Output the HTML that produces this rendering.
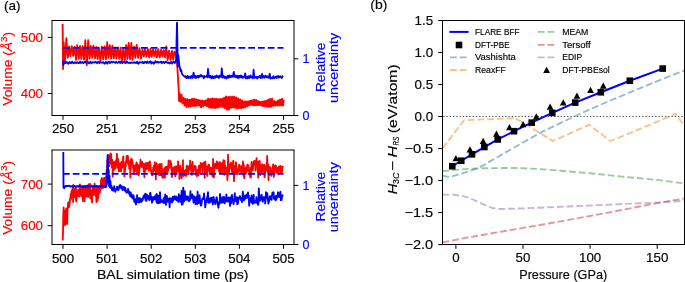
<!DOCTYPE html>
<html><head><meta charset="utf-8"><title>Figure</title>
<style>
html,body{margin:0;padding:0;background:#fff;}
svg{display:block;font-family:"Liberation Sans", sans-serif;}
svg{will-change:transform;}
</style></head>
<body>
<svg width="685" height="282" viewBox="0 0 685 282">
<defs>
<clipPath id="cTop"><rect x="52.0" y="20.5" width="242.0" height="95.0"/></clipPath>
<clipPath id="cBot"><rect x="52.0" y="150.0" width="242.0" height="94.5"/></clipPath>
<clipPath id="cB"><rect x="442.5" y="20.5" width="242.0" height="224.0"/></clipPath>
</defs>
<rect width="685" height="282" fill="#fff"/>
<g clip-path="url(#cTop)">
<polyline points="62.6,24 63.1,69 63.6,42.13 65.03,61.87 66.32,38.2 67.77,57.64 69.11,46.32 70.39,56.19 71.74,46.1 73.18,55.9 74.67,46.58 76.06,59.83 77.27,45.07 78.74,58.89 80.1,45.97 81.35,58.79 82.61,46.16 84.06,59.65 85.34,40.2 86.8,65.1 88.22,40.2 89.57,58.51 90.88,45.84 92.2,57.78 93.44,45.66 94.94,58.4 96.32,47 97.56,59.2 98.83,47.72 100.32,61.1 101.73,46.66 103.12,59.41 104.58,46.54 105.95,59.31 107.21,42.2 108.46,57.86 109.85,45.09 111.18,58.56 112.39,45.75 113.75,58.28 115.18,47.44 116.39,58.6 117.88,47.5 119.23,58.83 120.54,47.74 121.84,61.6 123.27,48.47 124.75,60.29 126.18,45.15 127.51,59 128.71,42.9 130.06,59.14 131.33,42.9 132.58,59.75 134.07,46.77 135.35,57.78 136.68,44.98 138.04,57.87 139.46,48.11 140.93,58.64 142.4,49.51 143.76,56.66 145.03,49.02 146.45,56.69 147.94,49.19 149.2,57.62 150.47,48.9 151.7,56.73 153.04,49.4 154.34,56.16 155.68,49.61 156.93,57.6 158.25,49.19 159.67,57.52 161.15,49.73 162.5,56.23 163.72,50.14 164.99,57.3 166.25,46.5 167.63,60.08 169.03,50.72 170.51,59.73 171.96,50.79 173.21,59.91 174.42,51.56 176.2,56 176.8,61 177.4,68 178,78 178.6,88 179.1,101 179.6,93 180.1,101.5 180.6,101.74 181.1,97.04 181.6,94.63 182.1,99.97 182.6,103.51 183.1,99.31 183.6,97.99 184.1,100.46 184.6,105.57 185.1,103.97 185.6,98.86 186.1,101.15 186.6,107.17 187.1,106.05 187.6,99.09 188.1,100.43 188.6,106.77 189.1,106.28 189.6,99.57 190.1,100.27 190.6,106.43 191.1,105.98 191.6,99.51 192.1,98.81 192.6,105.53 193.1,106.04 193.6,99.2 194.1,98.82 194.6,105.73 195.1,105.77 195.6,99.37 196.1,99.45 196.6,105.51 197.1,105.58 197.6,100 198.1,99.77 198.6,105.06 199.1,105.34 199.6,100.37 200.1,100.42 200.6,106.59 201.1,107.34 201.6,101.35 202.1,100.54 202.6,104.13 203.1,106.3 203.6,102.53 204.1,100.82 204.6,103.28 205.1,105.29 205.6,102.76 206.1,100.23 206.6,103.56 207.1,106.4 207.6,102.08 208.1,98.56 208.6,104.66 209.1,107.53 209.6,101.92 210.1,98.82 210.6,104.54 211.1,107.92 211.6,102.29 212.1,98.4 212.6,104.25 213.1,108.02 213.6,102.09 214.1,98.66 214.6,105.34 215.1,108.18 215.6,100.96 216.1,98.76 216.6,104.4 217.1,107.78 217.6,102.06 218.1,98.84 218.6,101.87 219.1,107.21 219.6,102.23 220.1,98.81 220.6,103.77 221.1,106.91 221.6,101.13 222.1,98.67 222.6,101.63 223.1,107.26 223.6,100.7 224.1,97.57 224.6,105.71 225.1,108.3 225.6,99.14 226.1,96.43 226.6,106.39 227.1,109.85 227.6,98.67 228.1,96.93 228.6,107.65 229.1,109.43 229.6,99.05 230.1,96.77 230.6,106.87 231.1,107.75 231.6,98.1 232.1,96.7 232.6,105.72 233.1,107.47 233.6,98.52 234.1,96.71 234.6,106.09 235.1,107.87 235.6,99.53 236.1,97.34 236.6,105.43 237.1,108.55 237.6,100.63 238.1,98.39 238.6,106.55 239.1,108.27 239.6,101 240.1,99.44 240.6,106.7 241.1,108.35 241.6,101.88 242.1,100.38 242.6,106.87 243.1,107.76 243.6,102.49 244.1,101.36 244.6,106.17 245.1,107.46 245.6,102.94 246.1,101.41 246.6,105.51 247.1,106.39 247.6,102.07 248.1,101.23 248.6,105.45 249.1,105.25 249.6,101.34 250.1,100.8 250.6,104.47 251.1,104.92 251.6,100.67 252.1,100.36 252.6,104.59 253.1,105.36 253.6,100.51 254.1,99.6 254.6,104.65 255.1,105.35 255.6,100.28 256.1,100 256.6,104.8 257.1,105.36 257.6,101.05 258.1,101.11 258.6,105.02 259.1,104.95 259.6,101.78 260.1,101.86 260.6,104.87 261.1,105.53 261.6,102.21 262.1,101.6 262.6,105.19 263.1,106.11 263.6,102.29 264.1,101.14 264.6,105.39 265.1,106.51 265.6,101.63 266.1,100.77 266.6,105.6 267.1,106.76 267.6,101.37 268.1,99.69 268.6,104.99 269.1,107.07 269.6,100.91 270.1,98.86 270.6,105.57 271.1,106.69 271.6,99.78 272.1,98.71 272.6,104.87 273.1,105.98 273.6,101.75 274.1,100.96 274.6,104.67 275.1,105.65 275.6,102.85 276.1,101.56 276.6,104.33 277.1,105.65 277.6,102.61 278.1,100.52 278.6,103.73 279.1,105.53 279.6,101.45 280.1,99.55 280.6,102.37 281.1,105.54 281.6,101.02 282.1,98.64 282.6,102.88 283.1,105.44 283.6,99.75" fill="none" stroke="#ff0000" stroke-width="1.85" stroke-linejoin="round" stroke-linecap="butt" />
<polyline points="62.8,60.5 63.3,64.8 63.9,63.5 64.5,62.3 65,61.48 65.8,63.01 66.6,62.21 67.4,62.39 68.2,63.69 69,62.69 69.8,62.02 70.6,63.09 71.4,62.88 72.2,61.62 73,62.74 73.8,63.2 74.6,62.53 75.4,62.39 76.2,63.04 77,62.09 77.8,62.62 78.6,63.08 79.4,62.81 80.2,61.58 81,62.92 81.8,62.54 82.6,62.08 83.4,63.12 84.2,62.35 85,61.52 85.8,62.57 86.6,62.83 87.4,61.49 88.2,62.51 89,63.27 89.8,62.47 90.6,61.75 91.4,63.35 92.2,62.52 93,62.19 93.8,62.43 94.6,62.58 95.4,61.91 96.2,62.2 97,63.29 97.8,62.11 98.6,61.82 99.4,63.12 100.2,62.17 101,62.24 101.8,62.76 102.6,62.45 103.4,62.23 104.2,63.54 105,63.58 105.8,61.86 106.6,62.53 107.4,63.59 108.2,61.98 109,61.81 109.8,63.14 110.6,62.45 111.4,61.62 112.2,62.41 113,62.1 113.8,62.04 114.6,62.49 115.4,62.83 116.2,61.92 117,62.67 117.8,62.94 118.6,62.19 119.4,61.84 120.2,62.97 121,61.94 121.8,62.31 122.6,62.98 123.4,62.35 124.2,61.68 125,62.67 125.8,63.13 126.6,61.28 127.4,62.09 128.2,62.93 129,62.91 129.8,62.48 130.6,63.06 131.4,62.54 132.2,62.64 133,62.9 133.8,62.48 134.6,62.23 135.4,62.93 136.2,63.12 137,61.66 137.8,63.12 138.6,63.66 139.4,62.22 140.2,62.39 141,62.39 141.8,62.52 142.6,61.85 143.4,63.14 144.2,62.84 145,61.69 145.8,62.16 146.6,63.01 147.4,61.58 148.2,62.33 149,62.85 149.8,61.9 150.6,61.34 151.4,63.52 152.2,62.38 153,62.3 153.8,63.68 154.6,62.61 155.4,61.17 156.2,62.44 157,62.46 157.8,61.67 158.6,62.48 159.4,62.36 160.2,62.14 161,61.62 161.8,63.2 162.6,62.26 163.4,61.81 164.2,62.96 165,62.42 165.8,61.59 166.6,62.16 167.4,62.87 168.2,62.49 169,63.14 169.8,63.52 170.6,62.27 171.4,61.91 172.2,63.6 173,62.27 173.8,61.89 174.6,62.88 175.4,62.64 176.2,59.5 176.6,40 177,22.6 177.4,45 177.8,66.5 178.2,55 178.8,60 179.4,66 180,68 180.6,71 181.2,70 181.8,73.5 182.5,74.5 183.2,75.5 184,76 185,76.8 185.8,76.21 186.4,78.14 187,77.77 187.6,75.99 188.2,77.84 188.8,77.97 189.4,76.75 190,77.14 190.6,77.96 191.2,75.99 191.8,76.36 192.4,77.89 193,75.85 193.6,72.7 194.2,77.54 194.8,76.53 195.4,76.01 196,78 196.6,77.32 197.2,75.91 197.8,77.22 198.4,77.45 199,75.65 199.6,76.9 200.2,76.56 200.8,74.84 201.4,76.21 202,76.11 202.6,76.01 203.2,76.97 203.8,78.28 204.4,76.06 205,76.98 205.6,76.7 206.2,76.43 206.8,75.4 207.4,77.28 208,69 208.6,75.22 209.2,77.23 209.8,76.81 210.4,75.8 211,77.9 211.6,78.21 212.2,76.2 212.8,76.85 213.4,78.14 214,76.66 214.6,76.39 215.2,77.91 215.8,76.56 216.4,75.55 217,77.17 217.6,76.55 218.2,76.1 218.8,77.98 219.4,76.93 220,75.54 220.6,76.83 221.2,76.81 221.8,68.4 222.4,77.38 223,77.56 223.6,75.76 224.2,76.7 224.8,77.92 225.4,76.82 226,77.71 226.6,78.57 227.2,76.38 227.8,75.77 228.4,77.69 229,76.17 229.6,75.47 230.2,77.42 230.8,76.31 231.4,75.73 232,77.02 232.6,76.64 233.2,74.68 233.8,72 234.4,76.95 235,75.35 235.6,76.21 236.2,77.35 236.8,75.88 237.4,75.8 238,78.07 238.6,76.76 239.2,75.82 239.8,77.66 240.4,76.17 241,75.41 241.6,76.89 242.2,77.84 242.8,76.57 243.4,77.55 244,76.91 244.6,76.24 245.2,73.5 245.8,78.52 246.4,76.54 247,77.33 247.6,78.27 248.2,76.13 248.8,77.67 249.4,78.05 250,76.07 250.6,75.43 251.2,77.61 251.8,76.78 252.4,76.58 253,78.29 253.6,69.8 254.2,76.47 254.8,77.85 255.4,77.61 256,76.71 256.6,77.67 257.2,78.48 257.8,76.95 258.4,77.36 259,77.05 259.6,75.96 260.2,76.23 260.8,78.13 261.4,76.7 262,74 262.6,77.71 263.2,76.94 263.8,76.07 264.4,77.72 265,77.09 265.6,75.74 266.2,76.64 266.8,77.56 267.4,76.31 268,77.4 268.6,77.77 269.2,76.05 269.8,73.8 270.4,78.68 271,77.79 271.6,77.86 272.2,78.32 272.8,77.18 273.4,76.27 274,78.27 274.6,77.82 275.2,76.94 275.8,77.1 276.4,78.05 277,76.1 277.6,77.64 278.2,77.52 278.8,76.03 279.4,77.3 280,77.1 280.6,76.47 281.2,76.55 281.8,77.92 282.4,76.25 283,77" fill="none" stroke="#0000ff" stroke-width="1.85" stroke-linejoin="round" stroke-linecap="butt" />
<line x1="63" y1="47.8" x2="283.5" y2="47.8" stroke="#0000ff" stroke-width="1.85" stroke-dasharray="6.8 2.95"/>
</g>
<g clip-path="url(#cBot)">
<polyline points="62.7,240.5 63,232 63.3,215 63.6,207.5 63.9,213.39 64.12,225.07 64.34,215.25 64.56,215.19 64.78,210.82 65,220.18 65.22,224.93 65.44,211.16 65.66,212.82 65.88,222.48 66.1,208.43 66.32,215.35 66.54,211.98 66.76,209.16 66.98,209.31 67.2,224.07 67.42,212.6 67.64,209.19 67.86,207.03 68.08,202.68 68.3,204.94 68.52,202.12 68.74,203.16 68.96,207.44 69.18,206.01 69.4,205.28 69.62,203.86 69.84,201.73 70.06,199.72 70.28,197.8 70.5,199.92 70.72,194.27 70.94,199.24 71.16,196.5 71.38,192.36 71.6,191.31 71.82,190.29 72,191.4 72.22,197.03 72.44,193.86 72.66,187.77 72.88,187.14 73.1,202.07 73.32,185.03 73.54,193.2 73.76,193.55 73.98,188.23 74.2,192.97 74.42,197.19 74.64,194 74.86,191.66 75.08,191.78 75.3,193.91 75.52,196.07 75.74,198.83 75.96,186.93 76.18,200.77 76.4,201.59 76.62,199.7 76.84,191.76 77.06,192.61 77.28,194.31 77.5,192.69 77.72,195.94 77.94,193.11 78.16,189.8 78.38,195.73 78.6,195.7 78.82,194.1 79.04,195.54 79.26,196.56 79.48,194.67 79.7,184.83 79.92,184.43 80.14,187.53 80.36,186.51 80.58,189.9 80.8,194.63 81.02,191.37 81.24,187.78 81.46,196.3 81.68,192.11 81.9,187.67 82.12,190.37 82.34,192.18 82.56,189.37 82.78,192.96 83,201.07 83.22,188.11 83.44,190.66 83.66,193.81 83.88,190.79 84.1,192.6 84.32,192.08 84.54,201.22 84.76,193.93 84.98,185.93 85.2,194.04 85.42,192.18 85.64,193.87 85.86,194.98 86.08,196.47 86.3,193.93 86.52,189.64 86.74,187.79 86.96,190.25 87.18,191.57 87.4,194.82 87.62,193.22 87.84,194.69 88.06,196.99 88.28,193.85 88.5,187.33 88.72,185.57 88.94,184.12 89.16,193.35 89.38,189.79 89.6,194.96 89.82,195.26 90.04,183.93 90.26,198.52 90.48,194.73 90.7,192.69 90.92,192.68 91.14,192.95 91.36,190.8 91.58,191.43 91.8,196.99 92.02,202.57 92.24,191.52 92.46,188.98 92.68,191.35 92.9,194.51 93.12,193.02 93.34,194.98 93.56,188.21 93.78,193.77 94,190.7 94.22,193.19 94.44,192.84 94.66,183.75 94.88,185.52 95.1,185.93 95.32,195.59 95.54,194.35 95.76,193.8 95.98,188.31 96.2,194.91 96.42,202.07 96.64,195.3 96.86,192.79 97.08,187.15 97.3,192.6 97.52,200.82 97.74,198.03 97.96,198.38 98.18,196.06 98.4,189.93 98.62,194.47 98.84,188.1 99.06,188.42 99.28,190.07 99.5,192.75 99.72,192.49 99.94,192.37 100.16,188.89 100.38,185.92 100.6,189.2 100.82,188.46 101,180 101.4,188 101.8,178 102.2,186 102.6,179 103,188 103.4,180 103.8,187 104.2,178 104.6,186 105,179 105.4,187 105.8,177 106.2,184 106.6,170 107,175 107.3,160 107.7,168 108.1,155 108.5,165 108.9,157 109.3,166 109.7,155 110.1,163 110.6,153.5 111.2,154.53 111.42,163.57 111.64,164.12 111.86,166.87 112.08,167.62 112.3,159.96 112.52,165.77 112.74,176.66 112.96,163.25 113.18,167.99 113.4,167.59 113.62,165.43 113.84,169.97 114.06,162.1 114.28,163.56 114.5,169.07 114.72,165.12 114.94,162.45 115.16,163.25 115.38,161.48 115.6,168.3 115.82,162.06 116.04,166.08 116.26,159.86 116.48,164.42 116.7,163.58 116.92,153.84 117.14,159.29 117.36,157.78 117.58,159.51 117.8,167.88 118.02,161.65 118.24,159.14 118.46,167.56 118.68,166.41 118.9,171.35 119.12,169.03 119.34,163.48 119.56,164.09 119.78,169.28 120,170.53 120.22,167.55 120.44,166.38 120.66,165.23 120.88,162.94 121.1,171.33 121.32,167.84 121.54,161.98 121.76,161.77 121.98,166.15 122.2,167.78 122.42,165.55 122.64,162.52 122.86,163.69 123.08,157.81 123.3,156.49 123.52,163.67 123.74,162.04 123.96,164.42 124.18,168.55 124.4,176.38 124.62,165.64 124.84,172.28 125.06,169.78 125.28,164.83 125.5,166.65 125.72,166.27 125.94,161.45 126.16,162.79 126.38,162.57 126.6,155.89 126.82,159.61 127.04,160.97 127.26,161.1 127.48,156.79 127.7,159.71 127.92,155.93 128.14,164.02 128.36,160.32 128.58,165.25 128.8,160.72 129.02,162.39 129.24,168.82 129.46,164.39 129.68,163.1 129.9,168.34 130.12,165.35 130.34,177.57 130.56,165.77 130.78,169.42 131,159.2 131.22,159.63 131.44,159.21 131.66,158.79 131.88,159.52 132.1,160.02 132.32,164.49 132.54,162.39 132.76,165.27 132.98,167.76 133.2,165.05 133.42,167.11 133.64,173.56 133.86,171.95 134.08,167.94 134.3,168.22 134.52,165.36 134.74,168.19 134.96,171.43 135.18,166.85 135.4,166.74 135.62,171.1 135.84,167.25 136.06,167.72 136.28,163.59 136.5,162.35 136.72,162.81 136.94,172.12 137.16,167.67 137.38,165.38 137.6,164.4 137.82,165.46 138.04,168.85 138.26,168.98 138.48,175.37 138.7,172.21 138.92,174.92 139.14,172.26 139.36,172.09 139.58,165.19 139.8,166.3 140.02,166.84 140.24,166.34 140.46,159.72 140.68,166.49 140.9,165.28 141.12,164.49 141.34,164.67 141.56,164.82 141.78,166.95 142,162.56 142.22,161.78 142.44,165.46 142.66,166.79 142.88,165.88 143.1,165.02 143.32,164 143.54,166.2 143.76,171.3 143.98,166.71 144.2,172.96 144.42,176.97 144.64,170.23 144.86,172.63 145.08,166.77 145.3,163.39 145.52,163.29 145.74,166.01 145.96,167.48 146.18,167.52 146.4,169.39 146.62,163.16 146.84,168.48 147.06,164.79 147.28,165.39 147.5,166.32 147.72,164.32 147.94,162.65 148.16,162.95 148.38,166.11 148.6,169.33 148.82,170.62 149.04,166.27 149.26,164.89 149.48,163.8 149.7,167.55 149.92,161.45 150.14,168.9 150.36,166.88 150.58,165.08 150.8,167.84 151.02,171.34 151.24,170.87 151.46,173.01 151.68,171.24 151.9,173.98 152.12,175.37 152.34,171.89 152.56,175.17 152.78,172.69 153,171.31 153.22,167.49 153.44,167.66 153.66,170.94 153.88,165.79 154.1,169.45 154.32,170.03 154.54,169.96 154.76,162.09 154.98,165.03 155.2,168.64 155.42,165.86 155.64,167.26 155.86,179.38 156.08,166.61 156.3,165.38 156.52,169.66 156.74,163.2 156.96,168.23 157.18,167.65 157.4,170.67 157.62,166.67 157.84,165.85 158.06,174.39 158.28,168.7 158.5,166.55 158.72,166.94 158.94,164.83 159.16,170.79 159.38,175.17 159.6,169.65 159.82,164.04 160.04,170.57 160.26,173.38 160.48,173.83 160.7,175.15 160.92,169.55 161.14,169.3 161.36,165.52 161.58,163.83 161.8,170.62 162.02,168.66 162.24,177.03 162.46,174.04 162.68,170.53 162.9,173.45 163.12,177.88 163.34,175.77 163.56,169.49 163.78,171.52 164,175.48 164.22,171.38 164.44,168.6 164.66,172.83 164.88,177.67 165.1,167.7 165.32,168 165.54,166.95 165.76,169.73 165.98,170.38 166.2,173.87 166.42,174.02 166.64,166.97 166.86,169.81 167.08,172.49 167.3,172.21 167.52,173.72 167.74,169.38 167.96,166.05 168.18,170.26 168.4,165.88 168.62,160.45 168.84,167.81 169.06,165.68 169.28,166.01 169.5,162.8 169.72,161.62 169.94,161.66 170.16,164.2 170.38,167.67 170.6,161.05 170.82,167.57 171.04,164.59 171.26,163.66 171.48,168.69 171.7,168.66 171.92,177.07 172.14,172.58 172.36,168.01 172.58,169.35 172.8,169.77 173.02,173.65 173.24,169.58 173.46,172.2 173.68,167.92 173.9,171.7 174.12,167.54 174.34,166.87 174.56,173.53 174.78,171.66 175,170.2 175.22,176.16 175.44,173.09 175.66,168.15 175.88,170.79 176.1,166.15 176.32,171.29 176.54,173.95 176.76,169.77 176.98,167.83 177.2,169.55 177.42,169.94 177.64,167.17 177.86,170.79 178.08,161.43 178.3,166.7 178.52,167.87 178.74,168.87 178.96,171.17 179.18,167.52 179.4,178.88 179.62,170.96 179.84,169.27 180.06,166.31 180.28,165.54 180.5,169.95 180.72,167.85 180.94,170.08 181.16,174.15 181.38,175.9 181.6,178.31 181.82,173.69 182.04,169.18 182.26,173.62 182.48,173.42 182.7,175.81 182.92,160.23 183.14,175.94 183.36,175.94 183.58,175.46 183.8,174.52 184.02,173.68 184.24,172.72 184.46,172.17 184.68,174.2 184.9,170.43 185.12,175.58 185.34,172.18 185.56,173.97 185.78,171.42 186,169.74 186.22,175.93 186.44,171.44 186.66,166.35 186.88,165.67 187.1,166.43 187.32,174.21 187.54,171.57 187.76,172.46 187.98,166.77 188.2,168.27 188.42,169.85 188.64,174.01 188.86,168.25 189.08,169.71 189.3,169.54 189.52,165.53 189.74,166.94 189.96,166.97 190.18,160.78 190.4,167.07 190.62,169.79 190.84,168.06 191.06,164.53 191.28,171.56 191.5,170.96 191.72,172.93 191.94,174.96 192.16,169.89 192.38,171.63 192.6,161.93 192.82,168.55 193.04,168.2 193.26,168.3 193.48,171.78 193.7,170.34 193.92,168.88 194.14,167.87 194.36,169.34 194.58,166.24 194.8,166.06 195.02,167.36 195.24,166.37 195.46,167.28 195.68,166.17 195.9,173.65 196.12,174.93 196.34,172.79 196.56,170.27 196.78,175.97 197,172.81 197.22,170.1 197.44,170.04 197.66,169.99 197.88,173.28 198.1,170.34 198.32,175.43 198.54,168.55 198.76,170.21 198.98,165.73 199.2,172.29 199.42,168.67 199.64,167.87 199.86,170.54 200.08,172.77 200.3,166.59 200.52,166.17 200.74,162.82 200.96,166 201.18,166.7 201.4,166.25 201.62,164.99 201.84,165.28 202.06,164.25 202.28,167.61 202.5,172.05 202.72,163.45 202.94,165.03 203.16,164.73 203.38,167.28 203.6,163.95 203.82,164.83 204.04,162.45 204.26,166.64 204.48,166.71 204.7,177.67 204.92,167.32 205.14,166.15 205.36,161.78 205.58,166.53 205.8,167.94 206.02,167.44 206.24,170.93 206.46,173.45 206.68,167.79 206.9,166.42 207.12,173.1 207.34,175.9 207.56,170.73 207.78,167.17 208,167.29 208.22,167.81 208.44,164.74 208.66,168.25 208.88,165.79 209.1,164.84 209.32,170.82 209.54,168.58 209.76,169.37 209.98,171.81 210.2,173.42 210.42,170.6 210.64,170.46 210.86,167.71 211.08,174.25 211.3,173.81 211.52,168.23 211.74,169.02 211.96,171.47 212.18,171.8 212.4,175.99 212.62,176.43 212.84,170.79 213.06,158.93 213.28,165.41 213.5,168.17 213.72,169.1 213.94,177.27 214.16,173.01 214.38,164.4 214.6,164.79 214.82,167.27 215.04,164.13 215.26,163.79 215.48,165.03 215.7,167.61 215.92,167.11 216.14,164.58 216.36,168.44 216.58,166.1 216.8,161.43 217.02,162.03 217.24,162.46 217.46,167.05 217.68,162.29 217.9,164.89 218.12,168.49 218.34,166.82 218.56,167.95 218.78,164.33 219,170.02 219.22,171.9 219.44,170.05 219.66,163.12 219.88,162.08 220.1,167.69 220.32,172.4 220.54,170.21 220.76,172.11 220.98,167.39 221.2,166.58 221.42,166.87 221.64,168.36 221.86,163.23 222.08,168.49 222.3,172.12 222.52,166.38 222.74,163.27 222.96,167.12 223.18,165.9 223.4,160.24 223.62,167.38 223.84,168.69 224.06,167.43 224.28,174.76 224.5,160.73 224.72,168.33 224.94,169.26 225.16,166.28 225.38,165.84 225.6,169.16 225.82,167.86 226.04,167.62 226.26,173.94 226.48,174.34 226.7,174.32 226.92,173.44 227.14,172.84 227.36,179.97 227.58,171.98 227.8,175.97 228.02,154.73 228.24,168.07 228.46,164.07 228.68,165.32 228.9,168.43 229.12,172.64 229.34,168.18 229.56,168.25 229.78,167.27 230,165.8 230.22,163.88 230.44,166.9 230.66,162.94 230.88,166.78 231.1,168.27 231.32,166.9 231.54,165.19 231.76,163.24 231.98,172.08 232.2,166.28 232.42,172.28 232.64,171.98 232.86,168.83 233.08,164.91 233.3,160.73 233.52,173.84 233.74,167.64 233.96,181.17 234.18,170.44 234.4,169.99 234.62,174.86 234.84,169.41 235.06,170.4 235.28,165.56 235.5,173.54 235.72,168.7 235.94,162.14 236.16,165.48 236.38,166.94 236.6,173.76 236.82,169.99 237.04,169.22 237.26,170.61 237.48,174.13 237.7,170.67 237.92,172.35 238.14,171.46 238.36,168.55 238.58,168.32 238.8,168.04 239.02,165.06 239.24,170.13 239.46,164.63 239.68,169.88 239.9,171.66 240.12,169.4 240.34,166.46 240.56,166.86 240.78,169.26 241,171.29 241.22,170.97 241.44,173.08 241.66,169.52 241.88,170.43 242.1,165.56 242.32,170.49 242.54,170.97 242.76,169.57 242.98,161.33 243.2,174.22 243.42,163.93 243.64,176.38 243.86,165.06 244.08,171.29 244.3,178.25 244.52,172.25 244.74,171.18 244.96,169.57 245.18,170.48 245.4,171.6 245.62,173.86 245.84,167.89 246.06,172.71 246.28,167.24 246.5,168.27 246.72,171.28 246.94,171.23 247.16,166.23 247.38,164.69 247.6,164.75 247.82,166.07 248.04,170.35 248.26,165.1 248.48,168.15 248.7,170.11 248.92,171.02 249.14,171.32 249.36,174.77 249.58,173.4 249.8,174.01 250.02,173.51 250.24,177.03 250.46,167.61 250.68,172.87 250.9,177.57 251.12,169.43 251.34,166.74 251.56,161.93 251.78,165.16 252,165.17 252.22,168.5 252.44,163.91 252.66,170.3 252.88,169.5 253.1,167.38 253.32,164.86 253.54,163.33 253.76,161.48 253.98,162.28 254.2,164.21 254.42,164.47 254.64,160.87 254.86,162.66 255.08,161.61 255.3,164.29 255.52,170.61 255.74,169.79 255.96,166.67 256.18,161.41 256.4,159.73 256.62,158.24 256.84,164.83 257.06,163.44 257.28,165.37 257.5,164.29 257.72,166.02 257.94,170.8 258.16,177.57 258.38,166.12 258.6,161.33 258.82,168.85 259.04,165.21 259.26,163.31 259.48,161.75 259.7,161.02 259.92,166.33 260.14,174.98 260.36,168.26 260.58,171.03 260.8,170.16 261.02,165.72 261.24,166.13 261.46,166.42 261.68,165.16 261.9,172.38 262.12,164.23 262.34,167.4 262.56,168.75 262.78,166.73 263,168.1 263.22,171 263.44,170.27 263.66,170.85 263.88,172.04 264.1,164.57 264.32,171.69 264.54,177.31 264.76,175.98 264.98,175.46 265.2,167.98 265.42,168.37 265.64,166.4 265.86,166.08 266.08,170.46 266.3,167.07 266.52,167.46 266.74,162.29 266.96,165.09 267.18,155.93 267.4,165.56 267.62,164.83 267.84,172.25 268.06,166.42 268.28,164.3 268.5,179.97 268.72,169.99 268.94,175.35 269.16,172.55 269.38,168.21 269.6,167.15 269.82,171.13 270.04,167.11 270.26,172.36 270.48,174.68 270.7,171.82 270.92,172.34 271.14,172.98 271.36,175.78 271.58,169.44 271.8,173.32 272.02,170.56 272.24,168.25 272.46,169.86 272.68,169.68 272.9,167.31 273.12,164.42 273.34,165 273.56,172.26 273.78,176.95 274,175.07 274.22,175.71 274.44,170.87 274.66,169.93 274.88,170.53 275.1,166.76 275.32,165.36 275.54,168 275.76,168.03 275.98,165.93 276.2,169.36 276.42,169.06 276.64,172.77 276.86,171.43 277.08,169.95 277.3,170.5 277.52,169.8 277.74,167.92 277.96,167.76 278.18,170.97 278.4,172.01 278.62,174.26 278.84,166.39 279.06,166.61 279.28,166.6 279.5,168.3 279.72,167.22 279.94,166.56 280.16,170.12 280.38,169.98 280.6,165.99 280.82,171.63 281.04,173.21 281.26,169.33 281.48,171.75 281.7,168.24 281.92,172.14 282.14,169.91 282.36,167.16 282.58,167.15 282.8,165.95" fill="none" stroke="#ff0000" stroke-width="1.85" stroke-linejoin="round" stroke-linecap="butt" />
<polyline points="63.3,151.9 63.4,170 63.5,187.5 64.2,188.2 64.9,186.5 65.6,186 66.3,186.45 67.1,185.69 67.9,186.14 68.7,185.93 69.5,185.76 70.3,186.66 71.1,186.35 71.9,186.05 72.7,186.79 73.5,186.61 74.3,185.72 75.1,186.24 75.9,186.78 76.7,186.07 77.5,186.22 78.3,186.81 79.1,185.7 79.9,185.58 80.7,186.34 81.5,186.17 82.3,186.12 83.1,187.26 83.9,186.04 84.7,186.16 85.5,187.14 86.3,186.49 87.1,185.56 87.9,186.56 88.7,186.31 89.5,185.38 90.3,186.71 91.1,186.74 91.9,185.53 92.7,187.13 93.5,186.39 94.3,185.64 95.1,186.24 95.9,186.34 96.7,185.89 97.5,186.21 98.3,187.23 99.1,186.03 99.9,186.26 100.7,186.61 101.5,185.41 102.3,185.93 103.1,186.4 103.9,186.35 104.7,185.85 105.5,187.26 106.3,186.39 106.8,184 107.3,170 107.6,155.2 107.9,160 108.3,182 108.7,170 109.1,186 109.5,176 109.9,187.5 110.4,181 110.9,188 111.4,186 111.8,187.95 112.02,190.07 112.24,188.27 112.46,188.78 112.68,189.32 112.9,187.87 113.12,188.41 113.34,190.94 113.56,189.35 113.78,188.38 114,187.43 114.22,186.15 114.44,188.33 114.66,188.22 114.88,188.41 115.1,190.17 115.32,191.77 115.54,188.86 115.76,189.5 115.98,189.33 116.2,188.98 116.42,188.88 116.64,188.26 116.86,189.71 117.08,186.62 117.3,188.85 117.52,189.59 117.74,189.54 117.96,188.67 118.18,188.61 118.4,190.02 118.62,189.31 118.84,188.27 119.06,186.85 119.28,186.7 119.5,185.8 119.72,186.65 119.94,187.24 120.16,184.89 120.38,186.09 120.6,187.44 120.82,187.6 121.04,186.62 121.26,188.46 121.48,187.26 121.7,186.11 121.92,188.67 122.14,186.98 122.36,188.87 122.58,190.15 122.8,189.76 123.02,188 123.24,187.84 123.46,187.55 123.68,188.34 123.9,186.88 124.12,188.46 124.34,189.93 124.56,189.75 124.78,190.43 125,189.11 125.22,187.84 125.44,188.23 125.66,190.67 125.88,191.79 126.1,190.55 126.32,192.06 126.54,190.96 126.76,192.78 126.98,192.47 127.2,191.2 127.42,192.22 127.64,190.79 127.86,189.93 128.08,188.9 128.3,190.67 128.52,191.23 128.74,191.54 128.96,191.32 129.18,193.86 129.4,192.23 129.62,192.03 129.84,194.4 130.06,195.97 130.28,195.41 130.5,192.42 130.72,192.58 130.94,194.44 131.16,194.71 131.38,197.12 131.6,194.41 131.82,196.05 132.04,195.2 132.26,197.68 132.48,197.13 132.7,198.6 132.92,197.14 133.14,195.51 133.36,195.32 133.58,196.16 133.8,196.19 134.02,199.67 134.24,201.74 134.46,201.38 134.68,199.43 134.9,199.96 135.12,199.51 135.34,202.61 135.56,202.57 135.78,202.92 136,204.57 136.22,198.63 136.44,198.82 136.66,198.31 136.88,200.24 137.1,195.12 137.32,199.47 137.54,199.41 137.76,202.35 137.98,199.81 138.2,198.52 138.42,198.89 138.64,198.27 138.86,198.32 139.08,199.82 139.3,202.45 139.52,198.09 139.74,198.69 139.96,199.06 140.18,199.04 140.4,198.86 140.62,198.52 140.84,200.57 141.06,202.07 141.28,199.08 141.5,199.25 141.72,199.53 141.94,199.2 142.16,201.01 142.38,200.21 142.6,200.1 142.82,199.63 143.04,197.74 143.26,197.03 143.48,196.25 143.7,197.93 143.92,197.16 144,195.62 144.4,194.89 144.8,195.34 145.2,193.71 145.6,200.24 146,200.6 146.4,200.88 146.8,194.53 147.2,194.94 147.6,197.72 148,198.47 148.4,196.18 148.8,198.25 149.2,200.14 149.6,199.6 150,193.43 150.4,192.7 150.8,196.76 151.2,198.97 151.6,198.5 152,202.57 152.4,197.22 152.8,200.72 153.2,199.57 153.6,199.71 154,196.83 154.4,196.98 154.8,199.02 155.2,196.43 155.6,195.09 156,197.18 156.4,201.72 156.8,193.93 157.2,203.25 157.6,199.92 158,198.7 158.4,195.66 158.8,203.17 159.2,202.86 159.6,201.5 160,192.23 160.4,202.51 160.8,200.76 161.2,199.87 161.6,200.52 162,202.14 162.4,201.98 162.8,202 163.2,201.06 163.6,198.32 164,203.27 164.4,197.09 164.8,201.59 165.2,194.45 165.6,197.45 166,204.87 166.4,199.49 166.8,195.99 167.2,197.99 167.6,201.91 168,199.13 168.4,200.53 168.8,199.63 169.2,198.29 169.6,207.29 170,201.62 170.4,198.73 170.8,198.24 171.2,200.49 171.6,201.2 172,202.39 172.4,201.09 172.8,196.69 173.2,200.76 173.6,199.61 174,199.41 174.4,196.25 174.8,197.86 175.2,197.87 175.6,199.67 176,196.4 176.4,199.5 176.8,200.45 177.2,197.42 177.6,197.94 178,197.45 178.4,201.93 178.8,194.07 179.2,197.83 179.6,195.33 180,197.93 180.4,201.92 180.8,199.05 181.2,200.33 181.6,190.93 182,204.7 182.4,203.61 182.8,203.81 183.2,187.73 183.6,196.19 184,201.48 184.4,199.34 184.8,191.12 185.2,199.7 185.6,195.71 186,199.89 186.4,198.85 186.8,199.68 187.2,196.78 187.6,199.05 188,196.35 188.4,199.95 188.8,201.25 189.2,200.96 189.6,199.84 190,199.88 190.4,191.18 190.8,198.33 191.2,197.29 191.6,198.1 192,197.43 192.4,194.48 192.8,196.09 193.2,199.73 193.6,202.72 194,198.21 194.4,196.41 194.8,202.16 195.2,197.53 195.6,204.12 196,200.49 196.4,197.16 196.8,201.22 197.2,204.1 197.6,191.73 198,202.64 198.4,199.35 198.8,203.17 199.2,199.28 199.6,195.21 200,199.67 200.4,201.95 200.8,205.65 201.2,205.67 201.6,203.07 202,200.07 202.4,198.68 202.8,199.02 203.2,197.8 203.6,199.04 204,193.5 204.4,199.3 204.8,200.27 205.2,207.33 205.6,204.4 206,200.44 206.4,202.18 206.8,197.93 207.2,198.47 207.6,195.27 208,192.23 208.4,202.78 208.8,198.03 209.2,199.69 209.6,202.67 210,202.13 210.4,201.59 210.8,198.09 211.2,197.66 211.6,199.32 212,201.75 212.4,197.64 212.8,204.47 213.2,201.06 213.6,196.9 214,201.06 214.4,199.92 214.8,201.33 215.2,204.02 215.6,202.05 216,201.93 216.4,197.64 216.8,197.33 217.2,200.94 217.6,204.35 218,205 218.4,207.73 218.8,203.29 219.2,201.99 219.6,203.82 220,193.93 220.4,200.98 220.8,198.19 221.2,202.78 221.6,198.48 222,201.5 222.4,197.15 222.8,202.61 223.2,198.4 223.6,202.24 224,196.86 224.4,198.55 224.8,203.23 225.2,199.25 225.6,200.57 226,199.49 226.4,194.44 226.8,200.01 227.2,201.71 227.6,198.07 228,201.5 228.4,198.73 228.8,197.44 229.2,199.7 229.6,198.42 230,205.85 230.4,197.63 230.8,201.58 231.2,203.25 231.6,195.95 232,194.84 232.4,200.64 232.8,199.45 233.2,201.49 233.6,204.06 234,200.8 234.4,198.22 234.8,193.22 235.2,199.62 235.6,198.2 236,201.01 236.4,201.39 236.8,197.14 237.2,204.06 237.6,203.98 238,203.21 238.4,197.58 238.8,198.09 239.2,197.76 239.6,197.93 240,196.05 240.4,199.59 240.8,199.88 241.2,200.24 241.6,197.98 242,202.03 242.4,200.05 242.8,191.79 243.2,195.07 243.6,197.26 244,200.33 244.4,197.62 244.8,196.92 245.2,195.52 245.6,198.52 246,196.26 246.4,195.23 246.8,194.58 247.2,197.82 247.6,195.82 248,192.41 248.4,197.66 248.8,195.64 249.2,205.67 249.6,198.86 250,201.41 250.4,201.82 250.8,197.88 251.2,198.16 251.6,195.49 252,202.77 252.4,201.54 252.8,203.9 253.2,200.17 253.6,194.87 254,203.03 254.4,201.42 254.8,201.21 255.2,201.03 255.6,202.58 256,202.7 256.4,197.19 256.8,202.79 257.2,199.92 257.6,199.29 258,204.77 258.4,203.9 258.8,188.33 259.2,195.19 259.6,199.03 260,200.79 260.4,199.43 260.8,195.88 261.2,196.04 261.6,194.74 262,198.16 262.4,200.51 262.8,201.59 263.2,197.22 263.6,198.62 264,199.78 264.4,197.25 264.8,197.52 265.2,203.47 265.6,199.87 266,192.23 266.4,197.33 266.8,197.66 267.2,193.08 267.6,196.29 268,200.25 268.4,203.61 268.8,202.11 269.2,200.45 269.6,198.43 270,196.29 270.4,196.96 270.8,199.2 271.2,196.14 271.6,199.87 272,195.77 272.4,192.61 272.8,193.75 273.2,192.21 273.6,192.45 274,198.9 274.4,196.86 274.8,197.27 275.2,199.65 275.6,200.35 276,195.77 276.4,199.3 276.8,197.63 277.2,196.17 277.6,196.93 278,192.24 278.4,192.76 278.8,194.7 279.2,197.09 279.6,195.15 280,195.33 280.4,191.73 280.8,200.15 281.2,198.94 281.6,199.95 282,195.85 282.4,195.11 282.8,196.61" fill="none" stroke="#0000ff" stroke-width="1.85" stroke-linejoin="round" stroke-linecap="butt" />
<line x1="63" y1="173.9" x2="283.5" y2="173.9" stroke="#0000ff" stroke-width="1.85" stroke-dasharray="6.8 2.95"/>
</g>
<line x1="52" y1="20.5" x2="52" y2="115.5" stroke="#000" stroke-width="1.0" />
<line x1="294" y1="20.5" x2="294" y2="115.5" stroke="#000" stroke-width="1.0" />
<line x1="51.5" y1="20.5" x2="294.5" y2="20.5" stroke="#000" stroke-width="1.0" />
<line x1="51.5" y1="115.5" x2="294.5" y2="115.5" stroke="#000" stroke-width="1.0" />
<line x1="63" y1="115.5" x2="63" y2="119.8" stroke="#000" stroke-width="1.0" />
<line x1="107.1" y1="115.5" x2="107.1" y2="119.8" stroke="#000" stroke-width="1.0" />
<line x1="151.2" y1="115.5" x2="151.2" y2="119.8" stroke="#000" stroke-width="1.0" />
<line x1="195.3" y1="115.5" x2="195.3" y2="119.8" stroke="#000" stroke-width="1.0" />
<line x1="239.4" y1="115.5" x2="239.4" y2="119.8" stroke="#000" stroke-width="1.0" />
<line x1="283.5" y1="115.5" x2="283.5" y2="119.8" stroke="#000" stroke-width="1.0" />
<line x1="52" y1="150" x2="52" y2="244.5" stroke="#000" stroke-width="1.0" />
<line x1="294" y1="150" x2="294" y2="244.5" stroke="#000" stroke-width="1.0" />
<line x1="51.5" y1="150" x2="294.5" y2="150" stroke="#000" stroke-width="1.0" />
<line x1="51.5" y1="244.5" x2="294.5" y2="244.5" stroke="#000" stroke-width="1.0" />
<line x1="63" y1="244.5" x2="63" y2="248.8" stroke="#000" stroke-width="1.0" />
<line x1="107.1" y1="244.5" x2="107.1" y2="248.8" stroke="#000" stroke-width="1.0" />
<line x1="151.2" y1="244.5" x2="151.2" y2="248.8" stroke="#000" stroke-width="1.0" />
<line x1="195.3" y1="244.5" x2="195.3" y2="248.8" stroke="#000" stroke-width="1.0" />
<line x1="239.4" y1="244.5" x2="239.4" y2="248.8" stroke="#000" stroke-width="1.0" />
<line x1="283.5" y1="244.5" x2="283.5" y2="248.8" stroke="#000" stroke-width="1.0" />
<line x1="47.7" y1="37.4" x2="52" y2="37.4" stroke="#000" stroke-width="1.0" />
<text x="43" y="41.9" font-size="12.6" fill="#ff0000" stroke="#ff0000" stroke-width="0.15" text-anchor="end" textLength="22.2" lengthAdjust="spacingAndGlyphs" >500</text>
<line x1="47.7" y1="93.5" x2="52" y2="93.5" stroke="#000" stroke-width="1.0" />
<text x="43" y="98" font-size="12.6" fill="#ff0000" stroke="#ff0000" stroke-width="0.15" text-anchor="end" textLength="22.2" lengthAdjust="spacingAndGlyphs" >400</text>
<line x1="294" y1="58.8" x2="298.3" y2="58.8" stroke="#000" stroke-width="1.0" />
<text x="302.6" y="63.3" font-size="12.6" fill="#0000ff" stroke="#0000ff" stroke-width="0.15" text-anchor="start" >1</text>
<line x1="294" y1="115.5" x2="298.3" y2="115.5" stroke="#000" stroke-width="1.0" />
<text x="302.6" y="120" font-size="12.6" fill="#0000ff" stroke="#0000ff" stroke-width="0.15" text-anchor="start" >0</text>
<text x="63" y="133.4" font-size="12.6" fill="#000" stroke="#000" stroke-width="0.15" text-anchor="middle" textLength="22.2" lengthAdjust="spacingAndGlyphs" >250</text>
<text x="107.1" y="133.4" font-size="12.6" fill="#000" stroke="#000" stroke-width="0.15" text-anchor="middle" textLength="22.2" lengthAdjust="spacingAndGlyphs" >251</text>
<text x="151.2" y="133.4" font-size="12.6" fill="#000" stroke="#000" stroke-width="0.15" text-anchor="middle" textLength="22.2" lengthAdjust="spacingAndGlyphs" >252</text>
<text x="195.3" y="133.4" font-size="12.6" fill="#000" stroke="#000" stroke-width="0.15" text-anchor="middle" textLength="22.2" lengthAdjust="spacingAndGlyphs" >253</text>
<text x="239.4" y="133.4" font-size="12.6" fill="#000" stroke="#000" stroke-width="0.15" text-anchor="middle" textLength="22.2" lengthAdjust="spacingAndGlyphs" >254</text>
<text x="283.5" y="133.4" font-size="12.6" fill="#000" stroke="#000" stroke-width="0.15" text-anchor="middle" textLength="22.2" lengthAdjust="spacingAndGlyphs" >255</text>
<line x1="47.7" y1="184.1" x2="52" y2="184.1" stroke="#000" stroke-width="1.0" />
<text x="43" y="188.6" font-size="12.6" fill="#ff0000" stroke="#ff0000" stroke-width="0.15" text-anchor="end" textLength="22.2" lengthAdjust="spacingAndGlyphs" >700</text>
<line x1="47.7" y1="225.7" x2="52" y2="225.7" stroke="#000" stroke-width="1.0" />
<text x="43" y="230.2" font-size="12.6" fill="#ff0000" stroke="#ff0000" stroke-width="0.15" text-anchor="end" textLength="22.2" lengthAdjust="spacingAndGlyphs" >600</text>
<line x1="294" y1="185.4" x2="298.3" y2="185.4" stroke="#000" stroke-width="1.0" />
<text x="302.6" y="189.9" font-size="12.6" fill="#0000ff" stroke="#0000ff" stroke-width="0.15" text-anchor="start" >1</text>
<line x1="294" y1="244.5" x2="298.3" y2="244.5" stroke="#000" stroke-width="1.0" />
<text x="302.6" y="249" font-size="12.6" fill="#0000ff" stroke="#0000ff" stroke-width="0.15" text-anchor="start" >0</text>
<text x="63" y="262.8" font-size="12.6" fill="#000" stroke="#000" stroke-width="0.15" text-anchor="middle" textLength="22.2" lengthAdjust="spacingAndGlyphs" >500</text>
<text x="107.1" y="262.8" font-size="12.6" fill="#000" stroke="#000" stroke-width="0.15" text-anchor="middle" textLength="22.2" lengthAdjust="spacingAndGlyphs" >501</text>
<text x="151.2" y="262.8" font-size="12.6" fill="#000" stroke="#000" stroke-width="0.15" text-anchor="middle" textLength="22.2" lengthAdjust="spacingAndGlyphs" >502</text>
<text x="195.3" y="262.8" font-size="12.6" fill="#000" stroke="#000" stroke-width="0.15" text-anchor="middle" textLength="22.2" lengthAdjust="spacingAndGlyphs" >503</text>
<text x="239.4" y="262.8" font-size="12.6" fill="#000" stroke="#000" stroke-width="0.15" text-anchor="middle" textLength="22.2" lengthAdjust="spacingAndGlyphs" >504</text>
<text x="283.5" y="262.8" font-size="12.6" fill="#000" stroke="#000" stroke-width="0.15" text-anchor="middle" textLength="22.2" lengthAdjust="spacingAndGlyphs" >505</text>
<text x="12" y="68.75" font-size="12.6" fill="#ff0000" stroke="#ff0000" stroke-width="0.15" text-anchor="middle" transform="rotate(-90 12 68.75)" textLength="74" lengthAdjust="spacingAndGlyphs" >Volume (<tspan font-style="italic">Å</tspan><tspan font-size="9" dy="-5">3</tspan><tspan dy="5">)</tspan></text>
<text x="12" y="197.85" font-size="12.6" fill="#ff0000" stroke="#ff0000" stroke-width="0.15" text-anchor="middle" transform="rotate(-90 12 197.85)" textLength="74" lengthAdjust="spacingAndGlyphs" >Volume (<tspan font-style="italic">Å</tspan><tspan font-size="9" dy="-5">3</tspan><tspan dy="5">)</tspan></text>
<text x="325" y="67.3" font-size="12.6" fill="#0000ff" stroke="#0000ff" stroke-width="0.15" text-anchor="middle" transform="rotate(-90 325 67.3)" textLength="49.6" lengthAdjust="spacingAndGlyphs" >Relative</text>
<text x="338.4" y="67.9" font-size="12.6" fill="#0000ff" stroke="#0000ff" stroke-width="0.15" text-anchor="middle" transform="rotate(-90 338.4 67.9)" textLength="70.2" lengthAdjust="spacingAndGlyphs" >uncertainty</text>
<text x="325" y="196.6" font-size="12.6" fill="#0000ff" stroke="#0000ff" stroke-width="0.15" text-anchor="middle" transform="rotate(-90 325 196.6)" textLength="49.6" lengthAdjust="spacingAndGlyphs" >Relative</text>
<text x="338.4" y="197.2" font-size="12.6" fill="#0000ff" stroke="#0000ff" stroke-width="0.15" text-anchor="middle" transform="rotate(-90 338.4 197.2)" textLength="70.2" lengthAdjust="spacingAndGlyphs" >uncertainty</text>
<text x="172.7" y="279.3" font-size="12.6" fill="#000" stroke="#000" stroke-width="0.15" text-anchor="middle" textLength="151.5" lengthAdjust="spacingAndGlyphs" >BAL simulation time (ps)</text>
<text x="3.9" y="10.4" font-size="12.6" fill="#000" stroke="#000" stroke-width="0.15" text-anchor="start" textLength="16.6" lengthAdjust="spacingAndGlyphs" >(a)</text>
<text x="370.3" y="9.2" font-size="12.6" fill="#000" stroke="#000" stroke-width="0.15" text-anchor="start" textLength="17" lengthAdjust="spacingAndGlyphs" >(b)</text>
<g clip-path="url(#cB)">
<line x1="442.5" y1="116.55" x2="684.5" y2="116.55" stroke="#444" stroke-width="1.1" stroke-dasharray="1.23 2.03" stroke-dashoffset="-0.8"/>
<polyline points="442.48,242.36 455.9,239.8 469.99,237.11 485.02,234.49 500.05,231.8 509.98,230.2 549.97,223.22 590.1,215.98 600.03,214.19 622.04,209.9 659.35,202.67 684.04,198.57" fill="none" stroke="#d62728" stroke-width="1.85" stroke-linejoin="round" stroke-linecap="butt" stroke-opacity="0.5" stroke-dasharray="6.8 2.95"/>
<polyline points="442.48,194.6 452.95,194.6 463.01,196.07 469.99,198.18 478.04,201.96 485.02,205.16 492,207.98 500.05,209 520.05,208.49 549.84,207.28 562.99,206.7 600.03,205.1 622.04,204.01 659.35,202.47 684.04,200.87" fill="none" stroke="#9467bd" stroke-width="1.85" stroke-linejoin="round" stroke-linecap="butt" stroke-opacity="0.5" stroke-dasharray="6.8 2.95"/>
<polyline points="442.48,171.1 455.9,169.82 469.99,168.79 492.94,168.09 516.29,167.96 540.04,169.05 560.04,170.71 590.1,173.21 622.04,176.61 657.2,179.93 684.04,183.39" fill="none" stroke="#2ca02c" stroke-width="1.85" stroke-linejoin="round" stroke-linecap="butt" stroke-opacity="0.5" stroke-dasharray="6.8 2.95"/>
<polyline points="442.48,175.58 448.25,176.8 452.95,176.22 463.01,173.02 472.94,170.01 483.01,165.66 489.99,161.37 509.98,149.84 540.04,132.87 569.97,118.47 600.03,104.89 630.36,92.21 657.2,81.14 684.44,70.44" fill="none" stroke="#1f77b4" stroke-width="1.85" stroke-linejoin="round" stroke-linecap="butt" stroke-opacity="0.5" stroke-dasharray="6.8 2.95"/>
<polyline points="442.48,148.3 464.09,120.19 515.35,118.21 553.06,141 589.03,124.8 610.63,141 675.85,113.92 684.31,126.02" fill="none" stroke="#ff7f0e" stroke-width="1.85" stroke-linejoin="round" stroke-linecap="butt" stroke-opacity="0.5" stroke-dasharray="6.8 2.95"/>
<polyline points="452.28,166.23 461.27,160.73 472,154.32 484.35,147.02 497.77,139.47 514.01,131.21 531.72,122.63 552.26,112.9 575.2,102.59 600.84,92.28 629.82,80.75 662.7,68.59" fill="none" stroke="#0000ff" stroke-width="2.0" stroke-linejoin="round" stroke-linecap="butt" />
<rect x="448.98" y="162.93" width="6.6" height="6.6" fill="#000"/>
<rect x="457.97" y="157.43" width="6.6" height="6.6" fill="#000"/>
<rect x="468.7" y="151.02" width="6.6" height="6.6" fill="#000"/>
<rect x="481.05" y="143.72" width="6.6" height="6.6" fill="#000"/>
<rect x="494.47" y="136.17" width="6.6" height="6.6" fill="#000"/>
<rect x="510.71" y="127.91" width="6.6" height="6.6" fill="#000"/>
<rect x="528.42" y="119.33" width="6.6" height="6.6" fill="#000"/>
<rect x="548.96" y="109.6" width="6.6" height="6.6" fill="#000"/>
<rect x="571.9" y="99.29" width="6.6" height="6.6" fill="#000"/>
<rect x="597.54" y="88.98" width="6.6" height="6.6" fill="#000"/>
<rect x="626.52" y="77.45" width="6.6" height="6.6" fill="#000"/>
<rect x="659.4" y="65.29" width="6.6" height="6.6" fill="#000"/>
<path d="M455.9,154.95 L459.32,161.25 L452.48,161.25 Z" fill="#000"/>
<path d="M469.99,146.24 L473.41,152.54 L466.57,152.54 Z" fill="#000"/>
<path d="M483.14,137.66 L486.56,143.96 L479.72,143.96 Z" fill="#000"/>
<path d="M496.43,130.43 L499.85,136.73 L493.01,136.73 Z" fill="#000"/>
<path d="M509.45,124.02 L512.87,130.32 L506.03,130.32 Z" fill="#000"/>
<path d="M523.13,120.95 L526.55,127.25 L519.71,127.25 Z" fill="#000"/>
<path d="M536.29,113.33 L539.71,119.63 L532.87,119.63 Z" fill="#000"/>
<path d="M550.11,103.47 L553.53,109.77 L546.69,109.77 Z" fill="#000"/>
<path d="M563.26,99.24 L566.68,105.54 L559.84,105.54 Z" fill="#000"/>
<path d="M576.95,92.46 L580.37,98.76 L573.53,98.76 Z" fill="#000"/>
<path d="M590.5,86.76 L593.92,93.06 L587.08,93.06 Z" fill="#000"/>
<path d="M603.25,82.53 L606.67,88.83 L599.83,88.83 Z" fill="#000"/>
</g>
<line x1="442.5" y1="20.5" x2="442.5" y2="244.5" stroke="#000" stroke-width="1.0" />
<line x1="684.5" y1="20.5" x2="684.5" y2="244.5" stroke="#000" stroke-width="1.0" />
<line x1="442" y1="20.5" x2="685" y2="20.5" stroke="#000" stroke-width="1.0" />
<line x1="442" y1="244.5" x2="685" y2="244.5" stroke="#000" stroke-width="1.0" />
<line x1="455.9" y1="244.5" x2="455.9" y2="248.8" stroke="#000" stroke-width="1.0" />
<text x="455.9" y="262.4" font-size="12.6" fill="#000" stroke="#000" stroke-width="0.15" text-anchor="middle" textLength="7.4" lengthAdjust="spacingAndGlyphs" >0</text>
<line x1="523" y1="244.5" x2="523" y2="248.8" stroke="#000" stroke-width="1.0" />
<text x="523" y="262.4" font-size="12.6" fill="#000" stroke="#000" stroke-width="0.15" text-anchor="middle" textLength="14.8" lengthAdjust="spacingAndGlyphs" >50</text>
<line x1="590.1" y1="244.5" x2="590.1" y2="248.8" stroke="#000" stroke-width="1.0" />
<text x="590.1" y="262.4" font-size="12.6" fill="#000" stroke="#000" stroke-width="0.15" text-anchor="middle" textLength="22.2" lengthAdjust="spacingAndGlyphs" >100</text>
<line x1="657.2" y1="244.5" x2="657.2" y2="248.8" stroke="#000" stroke-width="1.0" />
<text x="657.2" y="262.4" font-size="12.6" fill="#000" stroke="#000" stroke-width="0.15" text-anchor="middle" textLength="22.2" lengthAdjust="spacingAndGlyphs" >150</text>
<line x1="438.2" y1="20.5" x2="442.5" y2="20.5" stroke="#000" stroke-width="1.0" />
<text x="433.2" y="25" font-size="12.6" fill="#000" stroke="#000" stroke-width="0.15" text-anchor="end" textLength="18.6" lengthAdjust="spacingAndGlyphs" >1.5</text>
<line x1="438.2" y1="52.52" x2="442.5" y2="52.52" stroke="#000" stroke-width="1.0" />
<text x="433.2" y="57.02" font-size="12.6" fill="#000" stroke="#000" stroke-width="0.15" text-anchor="end" textLength="18.6" lengthAdjust="spacingAndGlyphs" >1.0</text>
<line x1="438.2" y1="84.53" x2="442.5" y2="84.53" stroke="#000" stroke-width="1.0" />
<text x="433.2" y="89.03" font-size="12.6" fill="#000" stroke="#000" stroke-width="0.15" text-anchor="end" textLength="18.6" lengthAdjust="spacingAndGlyphs" >0.5</text>
<line x1="438.2" y1="116.55" x2="442.5" y2="116.55" stroke="#000" stroke-width="1.0" />
<text x="433.2" y="121.05" font-size="12.6" fill="#000" stroke="#000" stroke-width="0.15" text-anchor="end" textLength="18.6" lengthAdjust="spacingAndGlyphs" >0.0</text>
<line x1="438.2" y1="148.56" x2="442.5" y2="148.56" stroke="#000" stroke-width="1.0" />
<text x="433.2" y="153.06" font-size="12.6" fill="#000" stroke="#000" stroke-width="0.15" text-anchor="end" textLength="28.8" lengthAdjust="spacingAndGlyphs" >−0.5</text>
<line x1="438.2" y1="180.57" x2="442.5" y2="180.57" stroke="#000" stroke-width="1.0" />
<text x="433.2" y="185.07" font-size="12.6" fill="#000" stroke="#000" stroke-width="0.15" text-anchor="end" textLength="28.8" lengthAdjust="spacingAndGlyphs" >−1.0</text>
<line x1="438.2" y1="212.59" x2="442.5" y2="212.59" stroke="#000" stroke-width="1.0" />
<text x="433.2" y="217.09" font-size="12.6" fill="#000" stroke="#000" stroke-width="0.15" text-anchor="end" textLength="28.8" lengthAdjust="spacingAndGlyphs" >−1.5</text>
<line x1="438.2" y1="244.61" x2="442.5" y2="244.61" stroke="#000" stroke-width="1.0" />
<text x="433.2" y="249.11" font-size="12.6" fill="#000" stroke="#000" stroke-width="0.15" text-anchor="end" textLength="28.8" lengthAdjust="spacingAndGlyphs" >−2.0</text>
<text x="563.2" y="278.9" font-size="12.6" fill="#000" stroke="#000" stroke-width="0.15" text-anchor="middle" textLength="88" lengthAdjust="spacingAndGlyphs" >Pressure (GPa)</text>
<text x="-194.2" y="0" font-size="12.6" fill="#000" stroke="#000" stroke-width="0.15" textLength="10.6" lengthAdjust="spacingAndGlyphs" transform="translate(397.0 0) rotate(-90)" font-style="italic">H</text>
<text x="-183.9" y="2" font-size="9.0" fill="#000" stroke="#000" stroke-width="0.15" textLength="11.3" lengthAdjust="spacingAndGlyphs" transform="translate(397.0 0) rotate(-90)">3<tspan font-style="italic">C</tspan></text>
<text x="-171" y="0" font-size="12.6" fill="#000" stroke="#000" stroke-width="0.15" textLength="10" lengthAdjust="spacingAndGlyphs" transform="translate(397.0 0) rotate(-90)">−</text>
<text x="-157.6" y="0" font-size="12.6" fill="#000" stroke="#000" stroke-width="0.15" textLength="11.6" lengthAdjust="spacingAndGlyphs" transform="translate(397.0 0) rotate(-90)" font-style="italic">H</text>
<text x="-145.6" y="2" font-size="9.0" fill="#000" stroke="#000" stroke-width="0.15" textLength="9" lengthAdjust="spacingAndGlyphs" transform="translate(397.0 0) rotate(-90)" font-style="italic">RS</text>
<text x="-133.3" y="0" font-size="12.6" fill="#000" stroke="#000" stroke-width="0.15" textLength="69" lengthAdjust="spacingAndGlyphs" transform="translate(397.0 0) rotate(-90)">(eV/atom)</text>
<line x1="449.4" y1="31.9" x2="468.6" y2="31.9" stroke="#0000ff" stroke-width="2.0" />
<rect x="455.7" y="41.7" width="6.6" height="6.6" fill="#000"/>
<line x1="450" y1="57.3" x2="468.6" y2="57.3" stroke="#1f77b4" stroke-width="1.85" stroke-opacity="0.5" stroke-dasharray="6.8 2.95"/>
<line x1="450" y1="70" x2="468.6" y2="70" stroke="#ff7f0e" stroke-width="1.85" stroke-opacity="0.5" stroke-dasharray="6.8 2.95"/>
<text x="475" y="34.8" font-size="8.8" fill="#000" stroke="#000" stroke-width="0.15" text-anchor="start" textLength="44.5" lengthAdjust="spacingAndGlyphs" >FLARE BFF</text>
<text x="475" y="47.8" font-size="8.8" fill="#000" stroke="#000" stroke-width="0.15" text-anchor="start" textLength="34.6" lengthAdjust="spacingAndGlyphs" >DFT-PBE</text>
<text x="475" y="60.2" font-size="8.8" fill="#000" stroke="#000" stroke-width="0.15" text-anchor="start" textLength="40.8" lengthAdjust="spacingAndGlyphs" >Vashishta</text>
<text x="475" y="72.9" font-size="8.8" fill="#000" stroke="#000" stroke-width="0.15" text-anchor="start" textLength="30.8" lengthAdjust="spacingAndGlyphs" >ReaxFF</text>
<line x1="537.8" y1="31.9" x2="556.4" y2="31.9" stroke="#2ca02c" stroke-width="1.85" stroke-opacity="0.5" stroke-dasharray="6.8 2.95"/>
<line x1="537.8" y1="44.9" x2="556.4" y2="44.9" stroke="#d62728" stroke-width="1.85" stroke-opacity="0.5" stroke-dasharray="6.8 2.95"/>
<line x1="537.8" y1="57.3" x2="556.4" y2="57.3" stroke="#9467bd" stroke-width="1.85" stroke-opacity="0.5" stroke-dasharray="6.8 2.95"/>
<path d="M546.6,66.8 L550.02,73.1 L543.18,73.1 Z" fill="#000"/>
<text x="562.2" y="34.8" font-size="8.8" fill="#000" stroke="#000" stroke-width="0.15" text-anchor="start" textLength="26.2" lengthAdjust="spacingAndGlyphs" >MEAM</text>
<text x="562.2" y="47.8" font-size="8.8" fill="#000" stroke="#000" stroke-width="0.15" text-anchor="start" textLength="28.6" lengthAdjust="spacingAndGlyphs" >Tersoff</text>
<text x="562.2" y="60.2" font-size="8.8" fill="#000" stroke="#000" stroke-width="0.15" text-anchor="start" textLength="20" lengthAdjust="spacingAndGlyphs" >EDIP</text>
<text x="562.2" y="72.9" font-size="8.8" fill="#000" stroke="#000" stroke-width="0.15" text-anchor="start" textLength="47.5" lengthAdjust="spacingAndGlyphs" >DFT-PBEsol</text>
</svg>
</body></html>
